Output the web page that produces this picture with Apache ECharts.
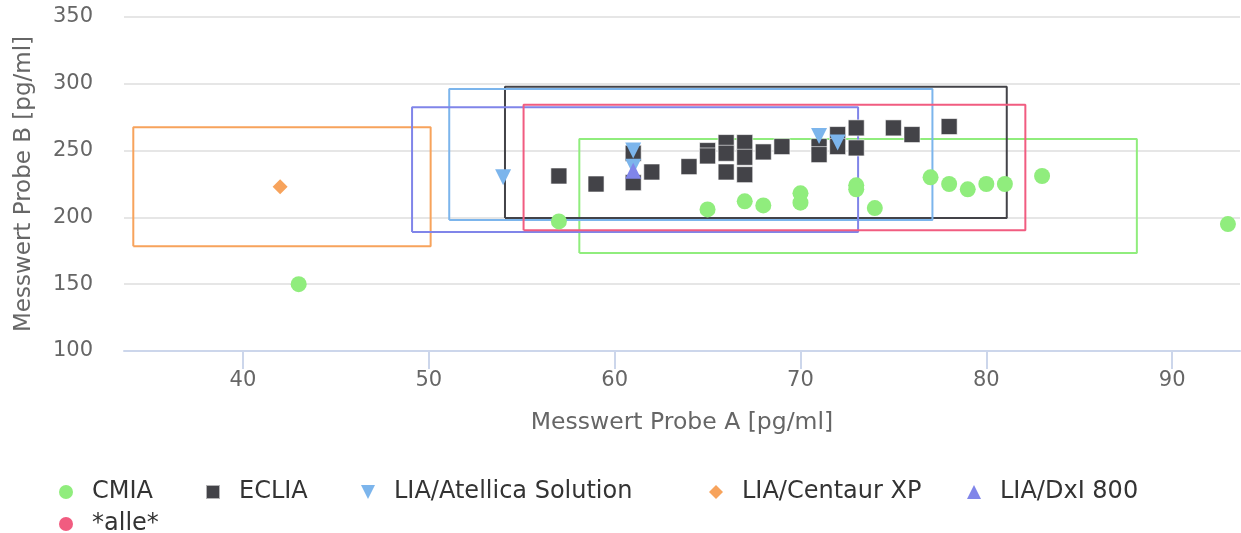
<!DOCTYPE html>
<html>
<head>
<meta charset="utf-8">
<script src="https://cdn.jsdelivr.net/npm/echarts@6/dist/echarts.min.js"></script>
<style>
html,body{margin:0;padding:0;background:#fff;}
#chart{width:1241px;height:533px;}
</style>
</head>
<body>
<div id="chart"></div>
<script>
// ---- data ----
const seriesNames = ['CMIA', 'ECLIA', 'LIA/Atellica Solution', 'LIA/Centaur XP', 'LIA/DxI 800', '*alle*'];

const cmiaX = [43, 57, 65, 67, 68, 70, 70, 73, 73, 74, 77, 78, 79, 80, 81, 83, 93];
const cmiaY = [150, 197, 206, 212, 209, 218, 211, 224, 221, 207, 230, 225, 221, 225, 225, 231, 195];

const ecliaX = [57, 59, 61, 61, 62, 64, 65, 65, 66, 66, 66, 67, 67, 67, 68, 69, 71, 71, 72, 72, 73, 73, 75, 76, 78];
const ecliaY = [231, 225, 226, 248, 234, 238, 250, 246, 256, 248, 234, 256, 245, 232, 249, 253, 253, 247, 262, 253, 267, 252, 267, 262, 268];

const atellicaX = [54, 61, 61, 71, 72];
const atellicaY = [230, 250, 238, 261, 256];

const centaurX = [42];
const centaurY = [223];

const dxiX = [61];
const dxiY = [235];

const alleX = [];
const alleY = [];

// range boxes per series: [xMin, xMax, yMin, yMax]
const boxCMIA = [58.1, 88.1, 173.4, 258.7];
const boxECLIA = [54.1, 81.1, 199.6, 297.8];
const boxAtellica = [51.1, 77.1, 198.1, 296.1];
const boxCentaur = [34.1, 50.1, 178.4, 267.4];
const boxDxI = [49.1, 73.1, 189.1, 282.4];
const boxAlle = [55.1, 82.1, 190.3, 284.4];

const xTicks = [40, 50, 60, 70, 80, 90];
const yMin = 100, yMax = 350, yStep = 50;
const xMin = 33.6, xMax = 93.65;

// ---- styling ----
const colors = ['#90ed7d', '#434348', '#7cb5ec', '#f7a35c', '#8085e9', '#f15c80'];
const triDown = 'path://M0,0 L10,0 L5,10 Z';
const triUp = 'path://M5,0 L10,10 L0,10 Z';
const symbols = ['circle', 'rect', triDown, 'diamond', triUp, 'circle'];
const FONT = 'DejaVu Sans, sans-serif';

const xs = [cmiaX, ecliaX, atellicaX, centaurX, dxiX, alleX];
const ys = [cmiaY, ecliaY, atellicaY, centaurY, dxiY, alleY];
const boxes = [boxCMIA, boxECLIA, boxAtellica, boxCentaur, boxDxI, boxAlle];

const zip = (a, b) => a.map((v, i) => [v, b[i]]);
const boxPath = b => [[b[0], b[2]], [b[1], b[2]], [b[1], b[3]], [b[0], b[3]], [b[0], b[2]]];

const series = [];
// boxes first (behind)
boxes.forEach((b, i) => {
  series.push({
    name: 'box ' + seriesNames[i],
    type: 'line',
    data: boxPath(b),
    symbol: 'none',
    silent: true,
    z: 1,
    lineStyle: { color: colors[i], width: 2 },
    itemStyle: { color: colors[i] },
    animation: false
  });
});
seriesNames.forEach((n, i) => {
  series.push({
    name: n,
    type: 'scatter',
    data: zip(xs[i], ys[i]),
    symbol: symbols[i],
    symbolSize: i === 3 ? 15 : 16,
    z: 3,
    itemStyle: {
      color: colors[i],
      borderColor: i === 1 ? 'rgba(255,255,255,0.6)' : 'transparent',
      borderWidth: i === 1 ? 1 : 0,
      opacity: 1
    },
    animation: false
  });
});

// legend placement (one component per item)
const legendPos = [
  { left: 59, top: 480 },
  { left: 205, top: 480 },
  { left: 361, top: 480 },
  { left: 709, top: 480 },
  { left: 967, top: 480 },
  { left: 59, top: 512 }
];
const legends = seriesNames.map((n, i) => ({
  data: [{ name: n, icon: symbols[i] }],
  left: legendPos[i].left,
  top: legendPos[i].top,
  orient: 'horizontal',
  itemWidth: 14,
  itemHeight: 14,
  itemGap: 0,
  padding: 0,
  formatter: '{g|}{t|{name}}',
  textStyle: {
    fontFamily: FONT, fontSize: 24, color: '#333333',
    rich: {
      g: { width: 14 },
      t: { fontFamily: FONT, fontSize: 24, color: '#333333' }
    }
  }
}));

const chart = echarts.init(document.getElementById('chart'), null, { renderer: 'canvas' });
chart.setOption({
  backgroundColor: '#ffffff',
  animation: false,
  legend: legends,
  grid: { left: 124, right: 1, top: 17, bottom: 182, containLabel: false },
  xAxis: {
    type: 'value',
    min: xMin,
    max: xMax,
    name: 'Messwert Probe A [pg/ml]',
    nameLocation: 'middle',
    nameGap: 60,
    nameTextStyle: { fontFamily: FONT, fontSize: 23.5, color: '#666666' },
    axisLine: { show: true, lineStyle: { color: '#ccd6eb', width: 2 } },
    axisTick: { show: true, length: 18, lineStyle: { color: '#ccd6eb', width: 2 }, customValues: xTicks },
    axisLabel: { customValues: xTicks, fontFamily: FONT, fontSize: 21, color: '#666666', margin: 19 },
    splitLine: { show: false }
  },
  yAxis: {
    type: 'value',
    min: yMin,
    max: yMax,
    interval: yStep,
    name: 'Messwert Probe B [pg/ml]',
    nameLocation: 'middle',
    nameRotate: 90,
    nameGap: 88,
    nameTextStyle: { fontFamily: FONT, fontSize: 23, color: '#666666' },
    axisLine: { show: false },
    axisTick: { show: false },
    axisLabel: { fontFamily: FONT, fontSize: 21, color: '#666666', margin: 31 },
    splitLine: { show: true, lineStyle: { color: '#e6e6e6', width: 2 } }
  },
  series: series
});
</script>
</body>
</html>
